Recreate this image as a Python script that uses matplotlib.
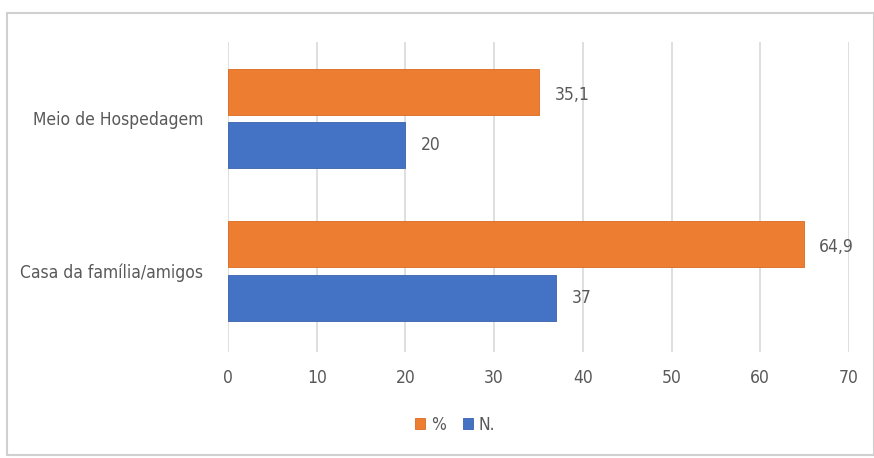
import matplotlib.pyplot as plt
from matplotlib.patches import Rectangle

# data
categories = ['Casa da família/amigos', 'Meio de Hospedagem']
pct = [64.9, 35.1]
num = [37, 20]
pct_labels = ['64,9', '35,1']
num_labels = ['37', '20']

plt.rcParams['font.family'] = ['DejaVu Sans']
plt.rcParams['font.stretch'] = 'condensed'

orange = '#ED7D31'
blue = '#4472C4'
text_grey = '#595959'

fig = plt.figure(figsize=(8.74, 4.58), dpi=100)
fig.patches.append(Rectangle((7 / 874, 3 / 458), 1 - 7 / 874, 1 - 16 / 458,
                             transform=fig.transFigure, facecolor='white',
                             edgecolor='#d0d0d0', linewidth=1.5, zorder=-5))

ax = fig.add_axes([228 / 874, 1 - 352 / 458, (849 - 228) / 874, 310 / 458])
ax.patch.set_alpha(0)

h = 0.3
off = 0.175
y = list(range(len(categories)))
ax.barh([v + off for v in y], pct, height=h, color=orange, edgecolor='#d96a20',
        linewidth=0.6, label='%', zorder=3)
ax.barh([v - off for v in y], num, height=h, color=blue, edgecolor='#3a62ab',
        linewidth=0.6, label='N.', zorder=3)

for i in y:
    ax.text(pct[i] + 1.7, i + off - 0.02, pct_labels[i], va='center', ha='left',
            fontsize=12.5, color=text_grey)
    ax.text(num[i] + 1.7, i - off, num_labels[i], va='center', ha='left',
            fontsize=12.5, color=text_grey)

ax.set_xlim(0, 70)
ax.set_ylim(-0.53, 1.5)
ax.set_xticks(range(0, 71, 10))
ax.set_yticks(y)
ax.set_yticklabels(categories)
ax.tick_params(axis='x', length=0, pad=12, labelsize=12.5, labelcolor=text_grey)
ax.tick_params(axis='y', length=0, pad=18, labelsize=12.5, labelcolor=text_grey)
ax.grid(axis='x', color='#d9d9d9', linewidth=1.2, zorder=0)
for s in ax.spines.values():
    s.set_visible(False)

fig.legend(loc='center', bbox_to_anchor=(455 / 874, 1 - 425 / 458), ncol=2,
           frameon=False, fontsize=12.5, labelcolor=text_grey, handlelength=0.6,
           handleheight=0.6, handletextpad=0.3, columnspacing=1.0)

fig.savefig('out.png', dpi=100, facecolor='white')
